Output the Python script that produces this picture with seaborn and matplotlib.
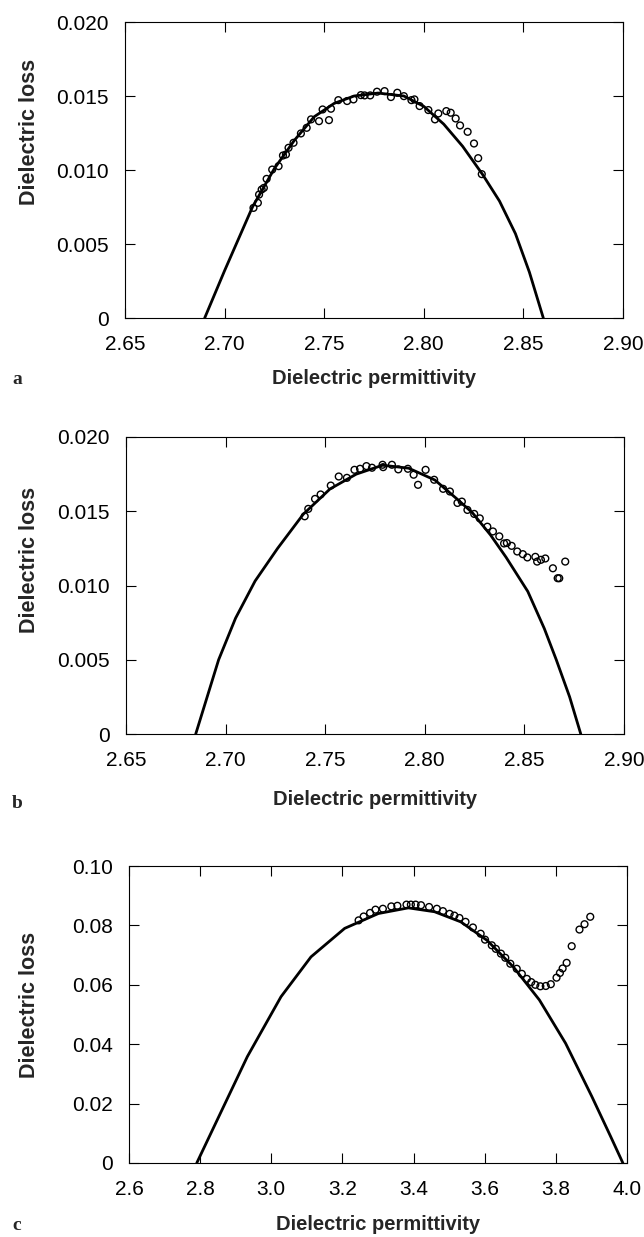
import matplotlib
matplotlib.use("Agg")
import matplotlib.pyplot as plt
import seaborn as sns
import pandas as pd

# ---------------- data ----------------
# panel a
a_fit_x = [2.690, 2.700, 2.714, 2.725, 2.735, 2.745, 2.755, 2.765, 2.777, 2.790, 2.800,
           2.810, 2.8195, 2.8295, 2.838, 2.846, 2.853, 2.860]
a_fit_y = [0.0, 0.0032, 0.0075, 0.0101, 0.0120, 0.0136, 0.0145, 0.0150, 0.0152, 0.0150, 0.0143,
           0.0131, 0.0116, 0.0097, 0.0079, 0.0057, 0.0031, 0.0]
a_pts_x = [2.7145, 2.7167, 2.7173, 2.7186, 2.7197, 2.7211, 2.7239, 2.7271, 2.7293, 2.7308,
           2.7321, 2.7346, 2.7383, 2.7412, 2.7434, 2.7474, 2.7492, 2.7524, 2.7534, 2.7571,
           2.7615, 2.7647, 2.7684, 2.7703, 2.7731, 2.7765, 2.7803, 2.7835, 2.7867, 2.7900,
           2.7938, 2.7953, 2.7979, 2.8023, 2.8056, 2.8073, 2.8113, 2.8135, 2.8160, 2.8182,
           2.8220, 2.8252, 2.8273, 2.8291]
a_pts_y = [0.00744, 0.00778, 0.00834, 0.00868, 0.00879, 0.00940, 0.01003, 0.01026, 0.01098, 0.01105,
           0.01150, 0.01184, 0.01247, 0.01285, 0.01342, 0.01330, 0.01409, 0.01337, 0.01414, 0.01472,
           0.01466, 0.01477, 0.01506, 0.01504, 0.01504, 0.01529, 0.01533, 0.01493, 0.01522, 0.01499,
           0.01472, 0.01477, 0.01432, 0.01405, 0.01342, 0.01382, 0.01398, 0.01387, 0.01348, 0.01301,
           0.01258, 0.01179, 0.01080, 0.00972]

# panel b
b_fit_x = [2.685, 2.6965, 2.705, 2.7148, 2.7261, 2.739, 2.7524, 2.7656, 2.7788, 2.7919, 2.8051,
           2.8164, 2.8239, 2.833, 2.8408, 2.8517, 2.860, 2.866, 2.8727, 2.8783]
b_fit_y = [0.0, 0.0050, 0.0078, 0.0103, 0.0125, 0.0148, 0.0165, 0.0175, 0.0181, 0.0179, 0.0171,
           0.0158, 0.0149, 0.0134, 0.0119, 0.0096, 0.0071, 0.0050, 0.0025, 0.0]
b_pts_x = [2.7397, 2.7415, 2.7449, 2.7477, 2.7528, 2.7568, 2.7609, 2.7647, 2.7675, 2.7707,
           2.7735, 2.7788, 2.7791, 2.7835, 2.7867, 2.7915, 2.7944, 2.7966, 2.8004, 2.8047,
           2.8092, 2.8126, 2.8164, 2.8186, 2.8214, 2.8248, 2.8276, 2.8314, 2.8342, 2.8374,
           2.8398, 2.8412, 2.8436, 2.8464, 2.8492, 2.8515, 2.8555, 2.8564, 2.8583, 2.8605,
           2.8643, 2.8667, 2.8675, 2.8705]
b_pts_y = [0.01466, 0.01516, 0.01583, 0.01613, 0.01673, 0.01734, 0.01725, 0.01779, 0.01786, 0.01804,
           0.01793, 0.01813, 0.01797, 0.01813, 0.01782, 0.01786, 0.01746, 0.01678, 0.01779, 0.01712,
           0.01651, 0.01633, 0.01556, 0.01565, 0.01509, 0.01482, 0.01452, 0.01396, 0.01364, 0.01331,
           0.01283, 0.01286, 0.01267, 0.01229, 0.01211, 0.01189, 0.01193, 0.01161, 0.01173, 0.01182,
           0.01116, 0.01049, 0.01049, 0.01161]

# panel c
c_fit_x = [2.7905, 2.8484, 2.9326, 3.0274, 3.1116, 3.2063, 3.3011, 3.3853, 3.4589, 3.5326,
           3.6063, 3.6800, 3.7537, 3.8274, 3.9011, 3.9537, 3.9884]
c_fit_y = [0.0, 0.0146, 0.0358, 0.0560, 0.0694, 0.0790, 0.0840, 0.0859, 0.0846, 0.0812,
           0.0750, 0.0661, 0.0549, 0.0403, 0.0224, 0.0090, 0.0]
c_pts_x = [3.2455, 3.2597, 3.2777, 3.2929, 3.3137, 3.3374, 3.3545, 3.3801, 3.3924, 3.4057,
           3.4209, 3.4436, 3.4654, 3.4825, 3.5014, 3.5147, 3.5289, 3.5460, 3.5668, 3.5886,
           3.6009, 3.6199, 3.6313, 3.6455, 3.6578, 3.6720, 3.6900, 3.7043, 3.7185, 3.7308,
           3.7422, 3.7564, 3.7716, 3.7858, 3.8019, 3.8114, 3.8190, 3.8303, 3.8445, 3.8664,
           3.8806, 3.8967]
c_pts_y = [0.0817, 0.0830, 0.0842, 0.0853, 0.0856, 0.0864, 0.0866, 0.0870, 0.0870, 0.0870,
           0.0868, 0.0862, 0.0856, 0.0848, 0.0839, 0.0833, 0.0825, 0.0812, 0.0793, 0.0772,
           0.0752, 0.0733, 0.0721, 0.0705, 0.0691, 0.0671, 0.0654, 0.0637, 0.0620, 0.0609,
           0.0600, 0.0595, 0.0596, 0.0602, 0.0624, 0.0640, 0.0655, 0.0674, 0.0730, 0.0786,
           0.0804, 0.0829]

# ticks
ab_xticks = [2.65, 2.70, 2.75, 2.80, 2.85, 2.90]
ab_xlabels = ["2.65", "2.70", "2.75", "2.80", "2.85", "2.90"]
ab_yticks = [0, 0.005, 0.010, 0.015, 0.020]
ab_ylabels = ["0", "0.005", "0.010", "0.015", "0.020"]
c_xticks = [2.6, 2.8, 3.0, 3.2, 3.4, 3.6, 3.8, 4.0]
c_xlabels = ["2.6", "2.8", "3.0", "3.2", "3.4", "3.6", "3.8", "4.0"]
c_yticks = [0, 0.02, 0.04, 0.06, 0.08, 0.10]
c_ylabels = ["0", "0.02", "0.04", "0.06", "0.08", "0.10"]

panel_letters = ["a", "b", "c"]
x_title = "Dielectric permittivity"
y_title = "Dielectric loss"

# ---------------- style ----------------
sns.set_style("ticks")
plt.rcParams['font.family'] = ['Liberation Sans', 'DejaVu Sans']

W, H = 644, 1237
fig = plt.figure(figsize=(W / 100, H / 100), dpi=100)


def rect(left, right, top, bottom):
    return [left / W, 1 - bottom / H, (right - left) / W, (bottom - top) / H]


panels = [
    dict(rect=rect(125, 623, 22, 318), fx=a_fit_x, fy=a_fit_y, px=a_pts_x, py=a_pts_y,
         xlim=(2.65, 2.90), ylim=(0, 0.020), xt=ab_xticks, xl=ab_xlabels, yt=ab_yticks, yl=ab_ylabels,
         xlab_y=-0.203, ylab=(-0.191, 0.627), letter_y=380),
    dict(rect=rect(126, 624, 437, 734), fx=b_fit_x, fy=b_fit_y, px=b_pts_x, py=b_pts_y,
         xlim=(2.65, 2.90), ylim=(0, 0.020), xt=ab_xticks, xl=ab_xlabels, yt=ab_yticks, yl=ab_ylabels,
         xlab_y=-0.222, ylab=(-0.193, 0.586), letter_y=803),
    dict(rect=rect(129, 627, 866, 1163), fx=c_fit_x, fy=c_fit_y, px=c_pts_x, py=c_pts_y,
         xlim=(2.6, 4.0), ylim=(0, 0.10), xt=c_xticks, xl=c_xlabels, yt=c_yticks, yl=c_ylabels,
         xlab_y=-0.207, ylab=(-0.199, 0.532), letter_y=1226),
]

for p, letter in zip(panels, panel_letters):
    ax = fig.add_axes(p["rect"])
    fit = pd.DataFrame({"x": p["fx"], "y": p["fy"]})
    pts = pd.DataFrame({"x": p["px"], "y": p["py"]})
    sns.lineplot(data=fit, x="x", y="y", ax=ax, color="black", linewidth=2.0,
                 sort=False, estimator=None, zorder=2)
    sns.scatterplot(data=pts, x="x", y="y", ax=ax, marker="o", s=24,
                    facecolor="none", edgecolor="black", linewidth=1.0, zorder=3)
    ax.set_xlim(*p["xlim"])
    ax.set_ylim(*p["ylim"])
    ax.set_xticks(p["xt"])
    ax.set_xticklabels(p["xl"])
    ax.set_yticks(p["yt"])
    ax.set_yticklabels(p["yl"])
    ax.tick_params(direction="in", top=True, right=True, length=7, width=0.8,
                   labelsize=15, colors="black")
    ax.tick_params(axis="x", pad=12.5)
    ax.tick_params(axis="y", pad=11.5)
    for s in ax.spines.values():
        s.set_visible(True)
        s.set_linewidth(0.8)
        s.set_color("black")
    ax.set_xlabel(x_title, fontsize=14.5, fontweight="bold")
    ax.set_ylabel(y_title, fontsize=15.5, fontweight="bold")
    ax.xaxis.label.set_va("center")
    ax.yaxis.label.set_va("center")
    ax.xaxis.set_label_coords(0.5, p["xlab_y"])
    ax.yaxis.set_label_coords(p["ylab"][0], p["ylab"][1])
    fig.text(17 / W, 1 - p["letter_y"] / H, letter, fontsize=14, fontweight="bold",
             family=["Liberation Serif", "DejaVu Serif"], ha="center", va="center")

fig.savefig("out.png", dpi=100)
